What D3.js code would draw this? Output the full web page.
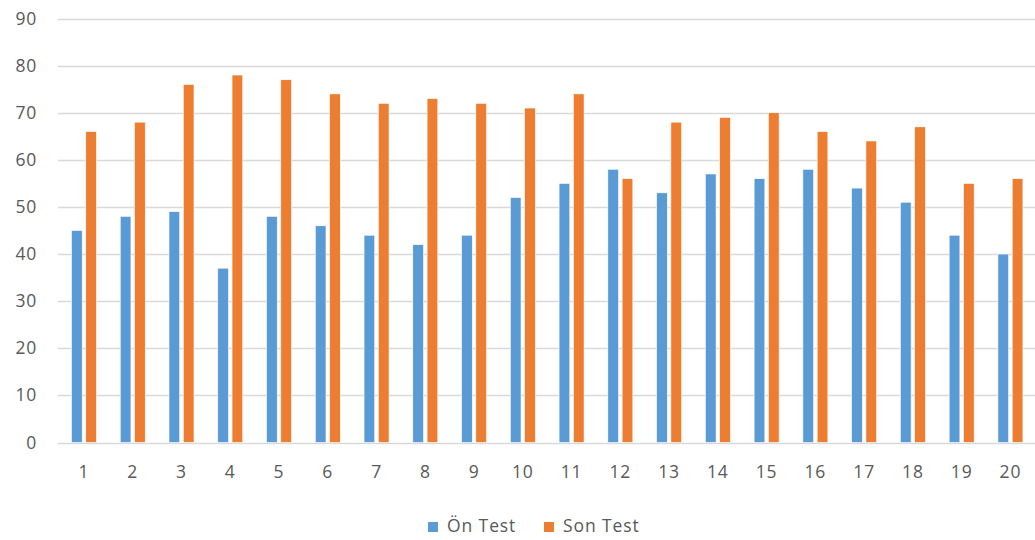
<!DOCTYPE html>
<html><head><meta charset="utf-8">
<script src="https://cdn.jsdelivr.net/npm/d3@7"></script>
<style>body{margin:0;background:#fff}svg{display:block}text{font-family:"Open Sans",sans-serif;fill:#595959}</style>
</head><body>
<svg id="c" width="1035" height="540"></svg>
<script>
const categories = ["1","2","3","4","5","6","7","8","9","10","11","12","13","14","15","16","17","18","19","20"];
const onTest = [45,48,49,37,48,46,44,42,44,52,55,58,53,57,56,58,54,51,44,40];
const sonTest = [66,68,76,78,77,74,72,73,72,71,74,56,68,69,70,66,64,67,55,56];
const seriesNames = ["Ön Test","Son Test"];
const colors = ["#5B9BD5","#ED7D31"];
const yTicks = [0,10,20,30,40,50,60,70,80,90];

(function(){
const svg = d3.select("#c");
const pLeft = 59.6, pTop = 18.5, pBottom = 442.5, band = 48.76;
const FONT = "'Open Sans', sans-serif";
const x = d3.scaleBand().domain(categories).range([pLeft, pLeft + band*categories.length]).paddingInner(0).paddingOuter(0);
const y = d3.scaleLinear().domain([0,90]).range([pBottom, pTop]);

// gridlines
svg.append("g").selectAll("line").data(yTicks).join("line")
  .attr("x1", 58).attr("x2", 1035)
  .attr("y1", d => Math.round(y(d))+0.5).attr("y2", d => Math.round(y(d))+0.5)
  .attr("stroke", "#d9d9d9").attr("stroke-width", 1.4);

// y axis labels
const yAxis = d3.axisLeft(y).tickValues(yTicks).tickSize(0).tickPadding(0);
const ga = svg.append("g").attr("transform", `translate(37,0)`).call(yAxis);
ga.select(".domain").remove();
ga.selectAll("text").attr("font-size", 17.5).attr("font-family", FONT).attr("fill", "#595959").attr("letter-spacing", 0.8);

// x axis labels
const xAxis = d3.axisBottom(x).tickSize(0).tickPadding(0);
const gx = svg.append("g").attr("transform", `translate(0,466)`).call(xAxis);
gx.select(".domain").remove();
gx.selectAll("text").attr("font-size", 17.5).attr("font-family", FONT).attr("fill", "#595959").attr("letter-spacing", 0.8);

// bars
const sub = d3.scaleBand().domain([0,1]).range([-12.5, 12.5]).paddingInner(0.25);
const data = [onTest, sonTest];
data.forEach((vals, si) => {
  svg.append("g").selectAll("rect").data(vals).join("rect")
    .attr("x", (d,i) => x(categories[i]) + x.bandwidth()/2 + sub(si))
    .attr("width", sub.bandwidth())
    .attr("y", d => y(d))
    .attr("height", d => y(0) - y(d))
    .attr("fill", colors[si])
    .attr("stroke", "#fff").attr("stroke-width", 0.6);
});

// legend
const leg = svg.append("g");
const legX = [428, 544];
seriesNames.forEach((n, i) => {
  leg.append("rect").attr("x", legX[i]).attr("y", 522).attr("width", 10).attr("height", 10).attr("fill", colors[i]);
  leg.append("text").attr("x", legX[i] + 19).attr("y", 531.5).attr("font-size", 17.5).attr("letter-spacing", 0.9).text(n);
});
})();
</script>
</body></html>
